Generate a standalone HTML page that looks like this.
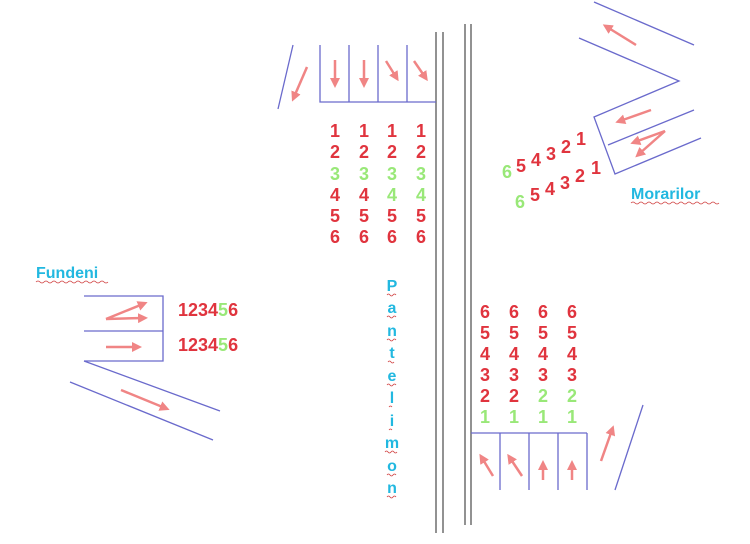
<!DOCTYPE html>
<html><head><meta charset="utf-8"><style>
html,body{margin:0;padding:0;background:#fff;width:750px;height:544px;overflow:hidden}
svg{display:block}
.n{font-family:"Liberation Sans",sans-serif;font-weight:bold;font-size:18px;fill:#e0343e;text-anchor:middle}
.g{fill:#99e878}
.c{font-family:"Liberation Sans",sans-serif;font-weight:bold;font-size:16px;fill:#22b8e0}
</style></head><body>
<svg width="750" height="544" viewBox="0 0 750 544">
<defs>
<marker id="a" markerWidth="4" markerHeight="4" refX="2" refY="2" orient="auto" markerUnits="strokeWidth">
<path d="M0,0 L4,2 L0,4 z" fill="#f08585"/></marker>
</defs>
<g stroke="#777" stroke-width="1.6">
<line x1="436" y1="32" x2="436" y2="533"/><line x1="443" y1="32" x2="443" y2="533"/>
<line x1="465" y1="24" x2="465" y2="525"/><line x1="471" y1="24" x2="471" y2="525"/>
</g>
<g stroke="#6a6acc" stroke-width="1.3" fill="none">
<polyline points="320,45 320,102 436,102"/>
<line x1="349" y1="45" x2="349" y2="102"/><line x1="378" y1="45" x2="378" y2="102"/><line x1="407" y1="45" x2="407" y2="102"/>
<line x1="293" y1="45" x2="278" y2="109"/>
<line x1="471" y1="433" x2="587" y2="433"/>
<line x1="500" y1="433" x2="500" y2="490"/><line x1="529" y1="433" x2="529" y2="490"/><line x1="558" y1="433" x2="558" y2="490"/><line x1="587" y1="433" x2="587" y2="490"/>
<line x1="643" y1="405" x2="615" y2="490"/>
<polyline points="84,296 163,296 163,361 84,361"/>
<line x1="84" y1="331" x2="163" y2="331"/>
<line x1="84" y1="361" x2="220" y2="411"/>
<line x1="70" y1="382" x2="213" y2="440"/>
<line x1="594" y1="2" x2="694" y2="45"/>
<polyline points="579,38 679,81 594,117 615,174 701,138"/>
<line x1="608" y1="145" x2="694" y2="110"/>
</g>
<g stroke="#f08585" stroke-width="2.5" fill="none" marker-end="url(#a)">
<line x1="307" y1="67" x2="294" y2="97"/>
<line x1="335" y1="60" x2="335" y2="83"/><line x1="364" y1="60" x2="364" y2="83"/>
<line x1="386" y1="61" x2="396" y2="77"/><line x1="414" y1="61" x2="425" y2="77"/>
<line x1="493" y1="476" x2="482" y2="458"/><line x1="522" y1="476" x2="510" y2="458"/>
<line x1="543" y1="480" x2="543" y2="465"/><line x1="572" y1="480" x2="572" y2="465"/>
<line x1="601" y1="461" x2="612" y2="430"/>
<line x1="106" y1="319" x2="143" y2="304"/><line x1="106" y1="319" x2="143" y2="318"/>
<line x1="106" y1="347" x2="137" y2="347"/>
<line x1="121" y1="390" x2="165" y2="408"/>
<line x1="636" y1="45" x2="607" y2="27"/>
<line x1="651" y1="110" x2="620" y2="121"/>
<line x1="665" y1="131" x2="635" y2="142"/><line x1="665" y1="131" x2="639" y2="154"/>
</g>
<g class="n">
<text x="335" y="137">1</text><text x="364" y="137">1</text><text x="392" y="137">1</text><text x="421" y="137">1</text>
<text x="335" y="158">2</text><text x="364" y="158">2</text><text x="392" y="158">2</text><text x="421" y="158">2</text>
<text x="335" y="180" class="g">3</text><text x="364" y="180" class="g">3</text><text x="392" y="180" class="g">3</text><text x="421" y="180" class="g">3</text>
<text x="335" y="201">4</text><text x="364" y="201">4</text><text x="392" y="201" class="g">4</text><text x="421" y="201" class="g">4</text>
<text x="335" y="222">5</text><text x="364" y="222">5</text><text x="392" y="222">5</text><text x="421" y="222">5</text>
<text x="335" y="243">6</text><text x="364" y="243">6</text><text x="392" y="243">6</text><text x="421" y="243">6</text>

<text x="485" y="318">6</text><text x="514" y="318">6</text><text x="543" y="318">6</text><text x="572" y="318">6</text>
<text x="485" y="339">5</text><text x="514" y="339">5</text><text x="543" y="339">5</text><text x="572" y="339">5</text>
<text x="485" y="360">4</text><text x="514" y="360">4</text><text x="543" y="360">4</text><text x="572" y="360">4</text>
<text x="485" y="381">3</text><text x="514" y="381">3</text><text x="543" y="381">3</text><text x="572" y="381">3</text>
<text x="485" y="402">2</text><text x="514" y="402">2</text><text x="543" y="402" class="g">2</text><text x="572" y="402" class="g">2</text>
<text x="485" y="423" class="g">1</text><text x="514" y="423" class="g">1</text><text x="543" y="423" class="g">1</text><text x="572" y="423" class="g">1</text>

<text x="507" y="178" class="g">6</text><text x="521" y="172">5</text><text x="536" y="166">4</text><text x="551" y="160">3</text><text x="566" y="153">2</text><text x="581" y="145">1</text>
<text x="520" y="208" class="g">6</text><text x="535" y="201">5</text><text x="550" y="195">4</text><text x="565" y="189">3</text><text x="580" y="182">2</text><text x="596" y="174">1</text>
</g>
<g class="n" style="text-anchor:start">
<text x="178" y="316">1234<tspan class="g">5</tspan>6</text>
<text x="178" y="351">1234<tspan class="g">5</tspan>6</text>
</g>
<text x="36" y="278" class="c">Fundeni</text>
<text x="631" y="199" class="c">Morarilor</text>
<g class="c" style="text-anchor:middle">
<text x="392" y="291">P</text><text x="392" y="313">a</text><text x="392" y="336">n</text><text x="392" y="358">t</text><text x="392" y="381">e</text><text x="392" y="403">l</text><text x="392" y="426">i</text><text x="392" y="448">m</text><text x="392" y="471">o</text><text x="392" y="493">n</text>
</g>
<g stroke="#d04040" stroke-width="0.8" fill="none">
<path d="M36,282 q2,-2 4,0 t4,0 t4,0 t4,0 t4,0 t4,0 t4,0 t4,0 t4,0 t4,0 t4,0 t4,0 t4,0 t4,0 t4,0 t4,0 t4,0 t4,0"/>
<path d="M631,203 q2,-2 4,0 t4,0 t4,0 t4,0 t4,0 t4,0 t4,0 t4,0 t4,0 t4,0 t4,0 t4,0 t4,0 t4,0 t4,0 t4,0 t4,0 t4,0 t4,0 t4,0 t4,0 t4,0"/>
<path d="M387,295 q1.5,-2 3,0 t3,0 t3,0"/>
<path d="M387,317 q1.5,-2 3,0 t3,0 t3,0"/>
<path d="M387,340 q1.5,-2 3,0 t3,0 t3,0"/>
<path d="M388,362 q1.5,-2 3,0 t3,0"/>
<path d="M387,385 q1.5,-2 3,0 t3,0 t3,0"/>
<path d="M389,407 q1.5,-2 3,0"/>
<path d="M389,430 q1.5,-2 3,0"/>
<path d="M385,452 q1.5,-2 3,0 t3,0 t3,0 t3,0"/>
<path d="M387,475 q1.5,-2 3,0 t3,0 t3,0"/>
<path d="M387,497 q1.5,-2 3,0 t3,0 t3,0"/>
</g>
</svg>
</body></html>
